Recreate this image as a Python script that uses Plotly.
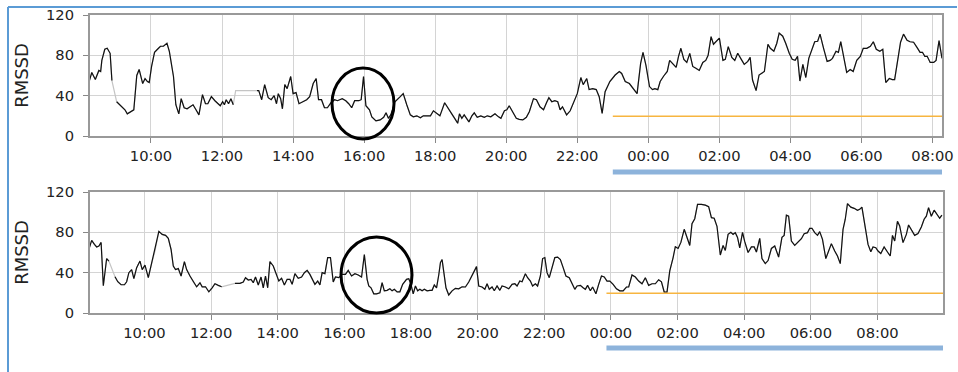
import plotly.graph_objects as go
from datetime import datetime, timedelta

# ---------------- data ----------------
TOP_TIMES = ["08:16","08:20","08:26","08:32","08:35","08:37","08:42","08:46","08:51","08:54",
 "09:02","09:07","09:12","09:16","09:20","09:26","09:31","09:36","09:40","09:46","09:50","09:54","09:57",
 "10:01","10:06","10:11","10:16","10:21","10:25","10:27","10:31","10:35","10:38","10:42","10:47","10:51","10:56",
 "11:01","11:06","11:11","11:15","11:21","11:27","11:32","11:36","11:42","11:48","11:52","11:57",
 "12:01","12:04","12:07","12:11","12:15","12:19","12:23","12:59",
 "13:02","13:07","13:12","13:18","13:23","13:28","13:32","13:35","13:39","13:42","13:46","13:50","13:56",
 "14:00","14:05","14:10","14:16","14:23","14:28","14:34","14:39","14:43","14:48","14:53","14:58",
 "15:04","15:10","15:15","15:23","15:29","15:34","15:39","15:44","15:51","15:55","15:59",
 "16:03","16:09","16:13","16:20","16:27","16:33","16:37","16:41","16:45","16:52",
 "17:01","17:06","17:12","17:18","17:23","17:29","17:35","17:40","17:46","17:52","17:57",
 "18:03","18:08","18:16","18:22","18:28","18:34","18:38","18:41","18:45","18:49","18:53","18:57",
 "19:02","19:06","19:11","19:17","19:23","19:28","19:34","19:41","19:47","19:51","19:57",
 "20:01","20:05","20:11","20:17","20:22","20:28","20:34","20:39","20:46","20:51","20:57",
 "21:03","21:08","21:12","21:17","21:22","21:27","21:31","21:35","21:38","21:42","21:48","21:54",
 "22:00","22:06","22:10","22:16","22:20","22:26","22:32","22:37","22:42","22:47","22:55",
 "23:04","23:11","23:15","23:21","23:28","23:35","23:41","23:47","23:51","23:56",
 "00:02","00:07","00:11","00:16","00:20","00:26","00:32","00:36","00:41","00:47","00:51","00:55",
 "01:00","01:05","01:10","01:15","01:21","01:26","01:32","01:37","01:41","01:46","01:50","01:56",
 "02:00","02:06","02:10","02:15","02:21","02:26","02:31","02:37","02:42","02:48","02:52","02:56",
 "03:02","03:07","03:11","03:16","03:22","03:26","03:32","03:37","03:41","03:47","03:52","03:58",
 "04:03","04:08","04:12","04:16","04:21","04:26","04:31","04:36","04:41","04:46","04:50","04:56",
 "05:02","05:07","05:11","05:17","05:21","05:25","05:30","05:35","05:41","05:46","05:52","05:58",
 "06:03","06:09","06:15","06:20","06:25","06:31","06:36","06:41","06:47","06:52","06:56",
 "07:02","07:06","07:11","07:17","07:22","07:28","07:34","07:39","07:43","07:47","07:51","07:56",
 "08:02","08:06","08:11","08:16"]
TOP_RMSSD = [55,63,56,65,64,75,86,87,82,55,
 34,31,29,26,22,24,26,60,66,52,57,54,53,
 69,83,86,89,89,91,92,84,70,59,31,22,37,28,
 27,29,31,27,21,41,32,32,39,35,33,30,
 34,31,36,32,37,31,45,45,
 45,36,51,38,36,40,32,42,37,27,51,47,59,
 42,43,32,34,36,39,52,57,36,36,28,28,
 33,36,35,37,35,32,28,35,35,36,59,
 30,26,19,15,16,18.5,23,17.5,21,34,
 39,42,31,21,19,20,18,20,20,20,25,
 22,20,33,27,22,16.5,12.6,22,17.5,21,18,14,
 20,23,18.5,20,18.5,20,19,22,19,17.5,25,
 26,30,24,17.5,16.5,16,18.5,24,37,36,29,
 26,33,38,34,35,34,26,29,26,21,25,34,
 42,58,51,57,46,47,46,39,22.5,44,54,
 60.5,64,62,54,52,46,42,72,83,70,
 49,46,47,46,54,59.5,64,75,72,68,79,87,
 76,73,82,69,67,65,73,75,80,98.5,91,94.5,
 97,75,76,88.6,78,75,82,76,71,74,78,55.5,
 45,60.5,62,64,91,87,84,92,102,99,92,82,
 76,75,79,54.5,71,58,77,85,93.5,94,101,87,
 74,75,77,84,83,93.5,79,63,66,64,75,79,
 87,87,89,93.5,86,84,86,53,57,56,56,
 79,93,101,95,93.5,93,87.6,83,83,79,79,73,
 73,75,94.5,77]
TOP_GAPS = [("08:54", "09:02"), ("12:19", "12:59")]

BOT_TIMES = ["08:21","08:25","08:30","08:34","08:38","08:42","08:46","08:52","08:56",
 "09:07","09:12","09:18","09:24","09:28","09:32","09:37","09:41","09:46","09:52","09:56",
 "10:01","10:07","10:13","10:19","10:26","10:32","10:38","10:43","10:48","10:52","10:56",
 "11:01","11:06","11:12","11:16","11:22","11:28","11:34","11:40","11:44","11:50","11:56",
 "12:02","12:07","12:13","12:19","12:43","12:52","12:58",
 "13:02","13:07","13:12","13:16","13:20","13:25","13:30","13:34","13:38","13:42","13:46","13:52","13:58",
 "14:02","14:07","14:12","14:17","14:22","14:26","14:31","14:37","14:43","14:48","14:53","14:58",
 "15:02","15:07","15:12","15:16","15:20","15:25","15:30","15:35","15:40","15:44","15:50","15:56",
 "16:02","16:07","16:13","16:19","16:25","16:31","16:36","16:41","16:44","16:48","16:53","16:58",
 "17:04","17:08","17:12","17:17","17:22","17:26","17:30","17:35","17:40","17:45","17:52","17:56",
 "18:00","18:04","18:08","18:12","18:16","18:20","18:24","18:29","18:34","18:38","18:42","18:46","18:50","18:53","18:56",
 "19:00","19:03","19:08","19:14","19:20","19:26","19:32","19:38","19:44","19:50","19:54","19:58",
 "20:02","20:08","20:13","20:17","20:21","20:26","20:30","20:35","20:40","20:44","20:50","20:56",
 "21:02","21:07","21:11","21:16","21:20","21:26","21:30","21:35","21:39","21:44","21:48","21:53","21:57",
 "22:01","22:05","22:09","22:14","22:19","22:24","22:29","22:34","22:39","22:45","22:50","22:55","22:59",
 "23:05","23:10","23:14","23:18","23:23","23:27","23:33","23:38","23:43","23:48","23:53","23:58",
 "00:04","00:10","00:16","00:22","00:28","00:32","00:35","00:38","00:44","00:50","00:56",
 "01:02","01:08","01:14","01:20","01:26","01:31","01:36","01:41","01:46","01:52","01:56",
 "02:01","02:06","02:12","02:17","02:22","02:26","02:31","02:36","02:43","02:50","02:56",
 "03:01","03:06","03:11","03:17","03:22","03:26","03:31","03:36","03:40","03:44","03:48","03:52","03:57",
 "04:01","04:07","04:13","04:18","04:22","04:28","04:32","04:38","04:43","04:49","04:55",
 "05:02","05:08","05:12","05:16","05:20","05:25","05:31","05:37","05:43","05:48","05:54","05:58",
 "06:02","06:07","06:12","06:16","06:21","06:27","06:32","06:37","06:43","06:48","06:53","06:58",
 "07:02","07:06","07:12","07:18","07:24","07:28","07:32","07:37","07:43","07:48","07:52","07:57",
 "08:01","08:06","08:12","08:18","08:23","08:27","08:31","08:36","08:40","08:46","08:52","08:56",
 "09:01","09:07","09:13","09:19","09:24","09:28","09:32","09:37","09:42","09:46","09:52","09:56"]
BOT_RMSSD = [65,72,68,65.5,66.5,70,27,54,51.5,
 36,31,28,28,31,40,43,34,45,51.5,43,
 47.5,35,49,61.5,81,78,77,74,63,46.6,43,
 44,36.7,51,43,36.7,30.7,26,30,26,26,21,
 25,29,27.4,26,29.4,29.4,30.7,
 35,32.7,33.4,30,35.7,27.8,35.7,25,36.7,25,51,46.6,36.7,
 31.7,34.4,27.8,33.4,33.4,28.4,39,34.4,35.7,40,42.3,38.3,
 33.4,28.4,31.7,27.8,40,39,55,55,30.7,35.7,35,38.3,
 38.3,42.3,36.7,39,37.7,35.7,58,33.4,26.8,25,19,19,
 20,30,22,22.5,24,22,23.5,21,21,28.4,33.4,34,
 28.4,19,26.8,22,23.5,22,23.5,22,22.5,22.5,27.8,25,37.7,50,53,
 35,25,17.9,22,24.5,24,26,25.8,30.7,36.7,41,46,
 26.8,25.8,23.5,29,23.5,25.8,22,26.8,22.5,26.8,25.8,24,
 28.4,29,26.8,31.7,31,39,35,31.7,26.8,29,26.8,36.7,54,
 55,40,35,45,55,55.5,53,45,36.7,35,28.4,23.5,26.8,
 27.4,25,23.5,27.4,22,25.8,19,28.4,36.7,35.7,31.7,31.7,
 28.4,24,22,22,25.8,25.8,31.7,37.7,35.7,31.7,29,
 35,27.4,29,29,33,31,20.8,20.8,41.7,55,65.8,
 64,70,83,74.7,67,88.6,93.5,107.8,107.8,107,105.5,
 94.5,94,86,57.5,67,62,78,80,78,79.7,75,64.5,80,
 70.7,60,65.5,65.5,60.5,74,54,49,52,64,66.4,
 55.5,75,77,97,96,71.4,67,70.4,73.7,78.7,79.7,84,
 84,79.7,77,80.7,73,54,61.5,68.8,61.5,56.5,49,83,
 93,108.4,105,103.8,101.8,102.8,105,86.3,68,60.8,65.5,64.8,
 61.5,59,65.5,60.5,56.5,77,71.4,91,86.3,69.8,78,87.3,
 82,77,78.7,85.3,93,96,104.5,96,102,98.5,94,97]
BOT_GAPS = [("08:56", "09:07"), ("12:19", "12:43")]

THRESHOLD = 19.5
TOP_THRESH_START = "23:00"
BOT_THRESH_START = "23:52"
Y_TICKS = [0, 40, 80, 120]

# ---------------- helpers ----------------
BASE = datetime(2024, 1, 1)


def to_dt(times):
    out, day, prev = [], 0, None
    for t in times:
        h, m = map(int, t.split(":"))
        mins = h * 60 + m
        if prev is not None and mins < prev:
            day += 1
        prev = mins
        out.append(BASE + timedelta(days=day, minutes=mins))
    return out


def day0(t, day=0):
    h, m = map(int, t.split(":"))
    return BASE + timedelta(days=day, hours=h, minutes=m)


def break_gaps(xs, ys, gaps):
    g = [(day0(a), day0(b)) for a, b in gaps]
    bx, by = [], []
    for i, (x, y) in enumerate(zip(xs, ys)):
        if i > 0 and any(a <= xs[i - 1] and x <= b for a, b in g):
            bx.append(None)
            by.append(None)
        bx.append(x)
        by.append(y)
    return bx, by


W, H = 958, 372
FONT = "DejaVu Sans"


def px_x(p):
    return p / W


def px_y(p):
    return 1 - p / H


top_x = to_dt(TOP_TIMES)
bot_x = to_dt(BOT_TIMES)
top_range = [day0("08:17"), day0("08:16", 1)]
bot_range = [day0("08:22"), day0("09:58", 1)]

fig = go.Figure()
for xs, ys, gaps, xa, ya in [(top_x, TOP_RMSSD, TOP_GAPS, "x", "y"),
                             (bot_x, BOT_RMSSD, BOT_GAPS, "x2", "y2")]:
    fig.add_trace(go.Scatter(x=xs, y=ys, mode="lines", xaxis=xa, yaxis=ya,
                             line=dict(color="#c4c4c4", width=1.2), hoverinfo="skip"))
    bx, by = break_gaps(xs, ys, gaps)
    fig.add_trace(go.Scatter(x=bx, y=by, mode="lines", xaxis=xa, yaxis=ya,
                             line=dict(color="#111111", width=1.2)))

fig.add_trace(go.Scatter(x=[day0(TOP_THRESH_START), top_range[1]], y=[THRESHOLD, THRESHOLD],
                         mode="lines", line=dict(color="#f7b540", width=1.5), xaxis="x", yaxis="y"))
fig.add_trace(go.Scatter(x=[day0(BOT_THRESH_START), bot_range[1]], y=[THRESHOLD, THRESHOLD],
                         mode="lines", line=dict(color="#f7b540", width=1.5), xaxis="x2", yaxis="y2"))

axis_common = dict(showgrid=True, gridcolor="#d4d4d4", gridwidth=1, showline=True, mirror=True,
                   linecolor="#999999", linewidth=2, ticks="outside", ticklen=5, tickcolor="#888888",
                   tickfont=dict(family=FONT, size=14.7, color="#222222"), zeroline=False,
                   automargin=False, ticklabeloverflow="allow")

xcommon = dict(axis_common, type="date", tickformat="%H:%M", dtick=7200000, tick0="2024-01-01 00:00")
ycommon = dict(axis_common, range=[0, 120], tickvals=Y_TICKS, ticklabelstandoff=6,
               title=dict(text="RMSSD", font=dict(family=FONT, size=18, color="#222222"), standoff=13))

fig.update_layout(
    width=W, height=H, margin=dict(l=0, r=0, t=0, b=0),
    paper_bgcolor="white", plot_bgcolor="white", showlegend=False,
    font=dict(family=FONT, color="#222222"),
    xaxis=dict(xcommon, domain=[px_x(90), px_x(942)], range=top_range, anchor="y"),
    yaxis=dict(ycommon, domain=[px_y(136), px_y(15)], anchor="x"),
    xaxis2=dict(xcommon, domain=[px_x(90), px_x(943)], range=bot_range, anchor="y2"),
    yaxis2=dict(ycommon, domain=[px_y(313), px_y(192)], anchor="x2"),
)

shapes = [
    # outer frame (blue)
    dict(type="line", xref="paper", yref="paper", x0=px_x(8), x1=px_x(957), y0=px_y(7), y1=px_y(7),
         line=dict(color="#5b9bd5", width=2)),
    dict(type="line", xref="paper", yref="paper", x0=px_x(8), x1=px_x(8), y0=0, y1=px_y(7),
         line=dict(color="#5b9bd5", width=2)),
    # highlight ellipses
    dict(type="circle", xref="paper", yref="paper", x0=px_x(332), x1=px_x(394), y0=px_y(139), y1=px_y(68),
         line=dict(color="black", width=3)),
    dict(type="circle", xref="paper", yref="paper", x0=px_x(341), x1=px_x(412), y0=px_y(313), y1=px_y(237),
         line=dict(color="black", width=3)),
    # night bars
    dict(type="line", xref="x", yref="paper", x0=day0(TOP_THRESH_START), x1=top_range[1],
         y0=px_y(172), y1=px_y(172), line=dict(color="#8db3db", width=5)),
    dict(type="line", xref="x2", yref="paper", x0=day0(BOT_THRESH_START), x1=bot_range[1],
         y0=px_y(348), y1=px_y(348), line=dict(color="#8db3db", width=5)),
]
fig.update_layout(shapes=shapes)

# the figure fills the whole window: drop the page's default body margin
fig.write_html("out.html", config={"displayModeBar": False},
               post_script="document.body.style.margin='0';document.body.style.overflow='hidden';")
